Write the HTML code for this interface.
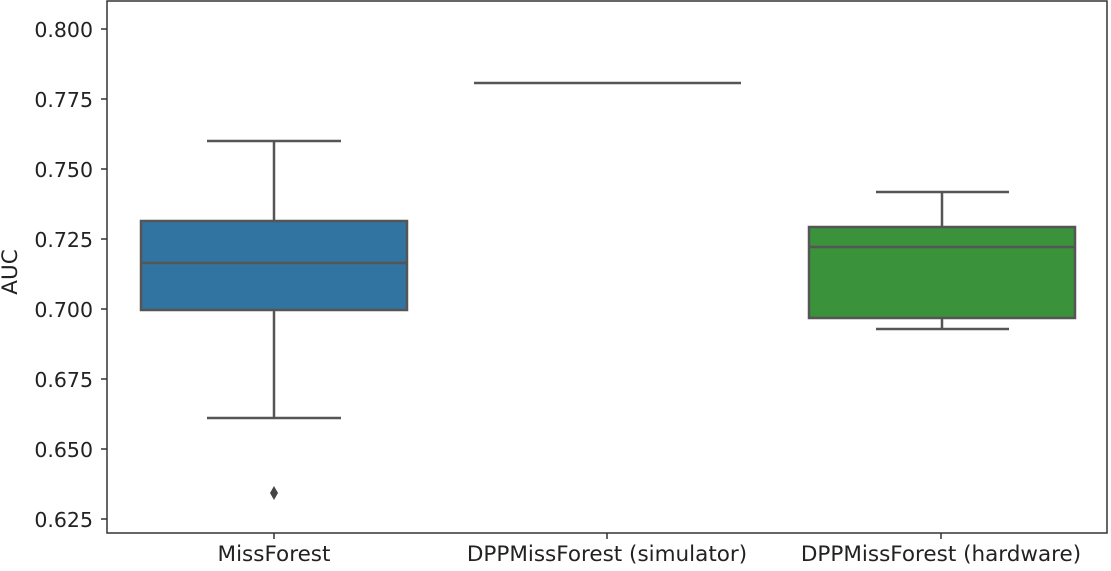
<!DOCTYPE html>
<html><head><style>body{margin:0;background:#fff}</style></head><body>
<svg width="1111" height="566" xmlns="http://www.w3.org/2000/svg" font-family="DejaVu Sans, Liberation Sans, sans-serif">
<rect x="0" y="0" width="1111" height="566" fill="#fff"/>
<g stroke="#555" stroke-width="2.5" fill="none">
<line x1="274" y1="141" x2="274" y2="221"/>
<line x1="274" y1="310" x2="274" y2="418"/>
<line x1="207" y1="141" x2="341" y2="141"/>
<line x1="207" y1="418" x2="341" y2="418"/>
<rect x="141" y="221" width="266" height="89" fill="#3274a1"/>
<line x1="141" y1="263" x2="407" y2="263"/>
<line x1="474" y1="83" x2="741" y2="83"/>
<line x1="942" y1="192" x2="942" y2="227"/>
<line x1="942" y1="318" x2="942" y2="329"/>
<line x1="876" y1="192" x2="1009" y2="192"/>
<line x1="876" y1="329" x2="1009" y2="329"/>
<rect x="809" y="227" width="266" height="91" fill="#3a923a"/>
<line x1="809" y1="247" x2="1075" y2="247"/>
</g>
<path d="M274 486 L278 493 L274 500 L270 493 Z" fill="#444"/>
<rect x="107" y="1" width="1000" height="532" fill="none" stroke="#333" stroke-width="1.5"/>
<g stroke="#333" stroke-width="1.5">
<line x1="101" y1="29" x2="107" y2="29"/><line x1="101" y1="99" x2="107" y2="99"/>
<line x1="101" y1="169" x2="107" y2="169"/><line x1="101" y1="239" x2="107" y2="239"/>
<line x1="101" y1="309" x2="107" y2="309"/><line x1="101" y1="379" x2="107" y2="379"/>
<line x1="101" y1="449" x2="107" y2="449"/><line x1="101" y1="519" x2="107" y2="519"/>
<line x1="274" y1="533" x2="274" y2="539"/><line x1="607" y1="533" x2="607" y2="539"/>
<line x1="941" y1="533" x2="941" y2="539"/>
</g>
<g font-size="20.5" fill="#222" text-anchor="end">
<text x="93" y="37">0.800</text><text x="93" y="107">0.775</text>
<text x="93" y="177">0.750</text><text x="93" y="247">0.725</text>
<text x="93" y="317">0.700</text><text x="93" y="387">0.675</text>
<text x="93" y="457">0.650</text><text x="93" y="527">0.625</text>
</g>
<g font-size="21.5" fill="#222" text-anchor="middle">
<text x="274" y="561">MissForest</text>
<text x="607" y="561">DPPMissForest (simulator)</text>
<text x="941" y="561">DPPMissForest (hardware)</text>
<text transform="translate(17,272) rotate(-90)">AUC</text>
</g>
</svg>
</body></html>
